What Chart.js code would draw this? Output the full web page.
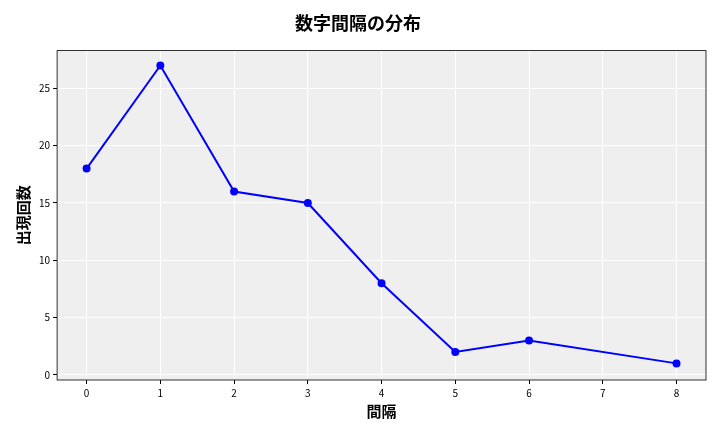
<!DOCTYPE html>
<html><head><meta charset="utf-8">
<script src="https://cdn.jsdelivr.net/npm/chart.js@4/dist/chart.umd.min.js"></script>
<style>html,body{margin:0;padding:0;background:#fff}#w{width:720px;height:432px}</style>
</head><body><div id="w"><canvas id="c"></canvas></div>
<script>
const gaps = [0, 1, 2, 3, 4, 5, 6, 8];
const counts = [18, 27, 16, 15, 8, 2, 3, 1];
const xTicks = [0, 1, 2, 3, 4, 5, 6, 7, 8];
const yTicks = [0, 5, 10, 15, 20, 25];
const F = "'Noto Sans CJK JP', 'DejaVu Sans', sans-serif";
const bg = {id:'bg', beforeDraw(ch){const a=ch.chartArea,x=ch.ctx;x.save();x.fillStyle='#efefef';x.fillRect(a.left,a.top,a.right-a.left,a.bottom-a.top);x.restore();},
 afterDraw(ch){const a=ch.chartArea,x=ch.ctx;x.save();x.strokeStyle='#000';x.lineWidth=0.8;x.strokeRect(a.left,a.top,a.right-a.left,a.bottom-a.top);x.restore();}};
new Chart(document.getElementById('c'), {
 type:'line',
 data:{datasets:[{data:gaps.map((g,i)=>({x:g,y:counts[i]})),borderColor:'#0000ff',backgroundColor:'#0000ff',borderWidth:2,pointRadius:3,pointHoverRadius:3,tension:0}]},
 options:{responsive:true,maintainAspectRatio:false,animation:false,
  layout:{padding:{left:10,right:14,top:4,bottom:12}},
  plugins:{legend:{display:false},tooltip:{enabled:false},
   title:{display:true,text:'数字間隔の分布',font:{family:F,size:18,weight:'bold'},color:'#000',padding:{top:8,bottom:17}}},
  scales:{
   x:{type:'linear',min:-0.4,max:8.4,afterBuildTicks:s=>{s.ticks=xTicks.map(v=>({value:v}))},
    grid:{color:'#ffffff',lineWidth:1,tickColor:'#000',tickLength:4},border:{display:false},
    ticks:{color:'#000',font:{family:F,size:10}},
    title:{display:true,text:'間隔',font:{family:F,size:15,weight:'bold'},color:'#000',padding:{top:0,bottom:0}}},
   y:{min:-0.45,max:28.3,afterBuildTicks:s=>{s.ticks=yTicks.map(v=>({value:v}))},
    grid:{color:'#ffffff',lineWidth:1,tickColor:'#000',tickLength:4},border:{display:false},
    ticks:{color:'#000',font:{family:F,size:10}},
    title:{display:true,text:'出現回数',font:{family:F,size:15,weight:'bold'},color:'#000'}}
  }},
 plugins:[bg]
});
</script></body></html>
